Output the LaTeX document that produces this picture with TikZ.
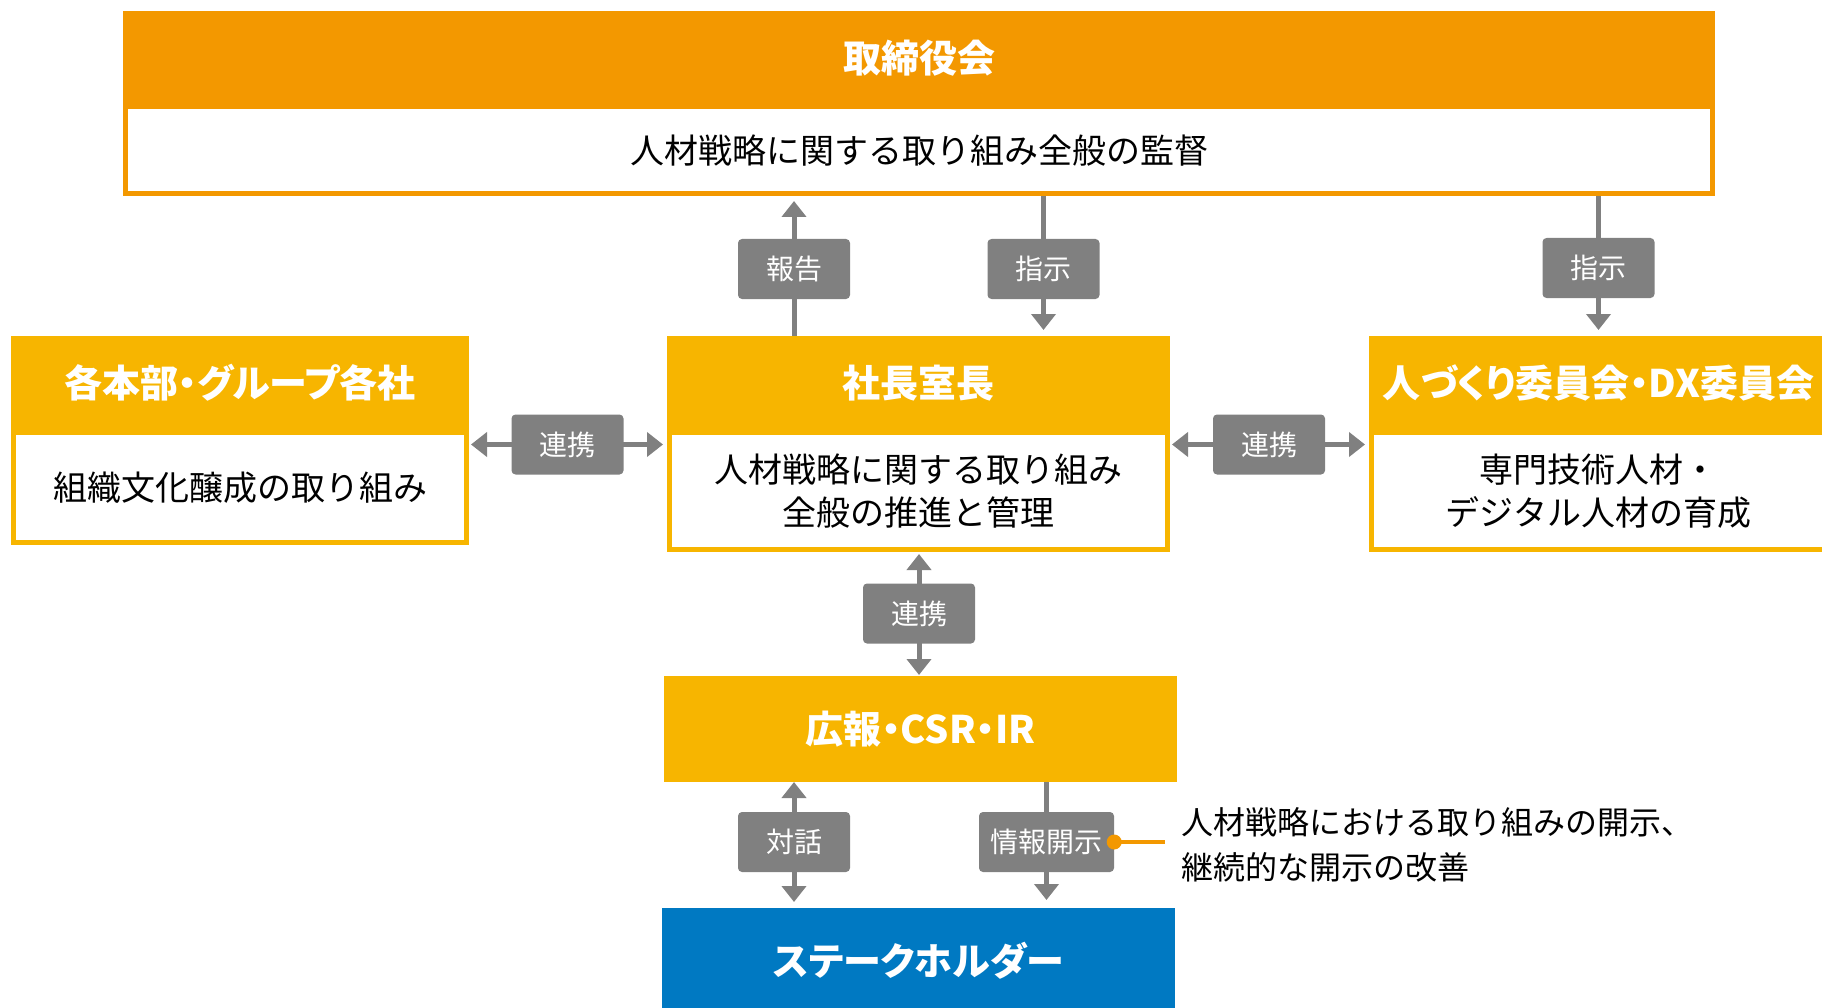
\documentclass[tikz,border=0pt]{standalone}
\usepackage{fontspec}
\setmainfont{Noto Sans CJK JP}
\newfontfamily\headfont{Noto Sans CJK JP}[RawFeature=+palt]
\usepackage{xcolor}
\usepackage{tikz}
\usetikzlibrary{arrows.meta}
\usetikzlibrary{positioning,backgrounds}

\definecolor{boardorange}{HTML}{F39800}
\definecolor{unityellow}{HTML}{F7B500}
\definecolor{holderblue}{HTML}{0079C2}
\definecolor{taggray}{HTML}{808080}

\tikzstyle{head} = [fill=unityellow, text=white, inner sep=0pt, outer sep=0pt,
    font=\headfont\fontsize{38}{40}\selectfont\bfseries]
\tikzstyle{body} = [draw=unityellow, line width=5pt, fill=white, inner sep=0pt, outer sep=0pt,
    align=center, font=\fontsize{34}{43}\selectfont]
\tikzstyle{tag} = [fill=taggray, rounded corners=4pt, text=white, inner sep=0pt,
    minimum height=60pt, minimum width=112pt, font=\fontsize{28}{30}\selectfont]
\tikzstyle{link} = [draw=taggray, line width=5pt, -{Triangle[width=24pt,length=16pt]}]
\tikzstyle{twolink} = [draw=taggray, line width=5pt,
    {Triangle[width=24pt,length=16pt]}-{Triangle[width=24pt,length=16pt]}]

\begin{document}
\begin{tikzpicture}[x=1pt, y=-1pt]
            \useasboundingbox (0,0) rectangle (1822,1008);
            \clip (0,0) rectangle (1822,1008);

            % board of directors
            \node[body, draw=boardorange, minimum width=1587pt, minimum height=87pt] (boardtxt) at (919,150.5) {人材戦略に関する取り組み全般の監督};
            \node[head, fill=boardorange, minimum width=1592pt, minimum height=94pt] (board) at (919,58) {取締役会};

            % middle row
            \node[body, minimum width=453pt, minimum height=110pt] (gmtxt) at (240,487.5) {組織文化醸成の取り組み};
            \node[head, minimum width=458pt, minimum height=94pt] (gm) at (240,383) {各本部・グループ各社};

            \node[body, minimum width=498pt, minimum height=117pt] (ceotxt) at (918.5,491) {人材戦略に関する取り組み\\全般の推進と管理};
            \node[head, minimum width=503pt, minimum height=94pt] (ceo) at (918.5,383) {社長室長};

            \node[body, minimum width=454pt, minimum height=117pt] (hrtxt) at (1598.5,491) {専門技術人材・\\デジタル人材の育成};
            \node[head, minimum width=459pt, minimum height=94pt] (hr) at (1598.5,383) {人づくり委員会・DX委員会};

            % lower part
            \node[head, minimum width=513pt, minimum height=106pt] (pr) at (920.5,729) {広報・CSR・IR};
            \node[head, fill=holderblue, minimum width=513pt, minimum height=106pt] (holder) at (918.5,961) {ステークホルダー};

            % tags
            \node[tag] (hokoku) at (794,269) {報告};
            \node[tag] (shijia) at (1043.5,269) {指示};
            \node[tag] (shijib) at (1598.5,268) {指示};
            \node[tag] (renkeil) at (567.5,444.5) {連携};
            \node[tag] (renkeir) at (1269,444.5) {連携};
            \node[tag] (renkeic) at (919,613.5) {連携};
            \node[tag] (taiwa) at (794,842) {対話};
            \node[tag, minimum width=135pt] (kaiji) at (1046.5,842) {情報開示};

            \node[anchor=west, align=left, inner xsep=16pt, inner ysep=0pt,
                  font=\fontsize{32}{45}\selectfont] (note) at (1165,845) {人材戦略における取り組みの開示、\\継続的な開示の改善};

            \begin{scope}[on background layer]
            \draw[link] (ceo.north -| hokoku) -- ([yshift=-7pt]boardtxt.south -| hokoku);
            \draw[link] (boardtxt.south -| shijia) -- ([yshift=6pt]ceo.north -| shijia);
            \draw[link] (boardtxt.south -| shijib) -- ([yshift=6pt]hr.north -| shijib);
            \draw[twolink] ([xshift=4.5pt]gmtxt.east |- renkeil) -- ([xshift=-6.5pt]ceotxt.west |- renkeil);
            \draw[twolink] ([xshift=4.5pt]ceotxt.east |- renkeir) -- ([xshift=-6.5pt]hrtxt.west |- renkeir);
            \draw[twolink] ([yshift=-4.5pt]ceotxt.south -| renkeic) -- ([yshift=1pt]pr.north -| renkeic);
            \draw[twolink] (pr.south -| taiwa) -- ([yshift=6pt]holder.north -| taiwa);
            \draw[link] (pr.south -| kaiji) -- ([yshift=8pt]holder.north -| kaiji);
            \end{scope}

            % note marker
            \draw[boardorange, line width=4pt] (kaiji.east) -- (kaiji.east -| note.west);
            \fill[boardorange] (kaiji.east) circle (7.5pt);
\end{tikzpicture}
\end{document}
